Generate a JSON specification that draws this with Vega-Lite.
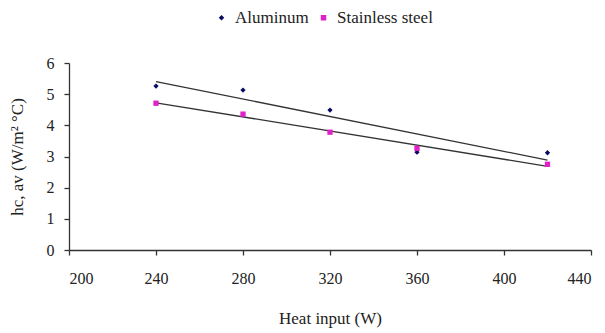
{
  "$schema": "https://vega.github.io/schema/vega-lite/v6.json",
  "width": 522,
  "height": 187,
  "autosize": {"type": "none"},
  "padding": {"left": 69, "top": 63, "right": 14, "bottom": 83},
  "background": "white",
  "config": {
    "view": {"stroke": null},
    "font": "Liberation Serif",
    "axis": {"grid": false, "domainColor": "#333", "tickColor": "#333", "labelColor": "#222", "titleColor": "#222", "labelFont": "Liberation Serif", "titleFont": "Liberation Serif", "labelFontSize": 16, "titleFontSize": 17, "titleFontWeight": "normal", "tickSize": 5, "domainWidth": 1.3, "tickWidth": 1.3, "labelOverlap": false}
  },
  "data": {
    "values": [
      {"heat": 240, "h": 5.26, "material": "Aluminum"},
      {"heat": 280, "h": 5.13, "material": "Aluminum"},
      {"heat": 320, "h": 4.49, "material": "Aluminum"},
      {"heat": 360, "h": 3.14, "material": "Aluminum"},
      {"heat": 420, "h": 3.12, "material": "Aluminum"},
      {"heat": 240, "h": 4.71, "material": "Stainless steel"},
      {"heat": 280, "h": 4.36, "material": "Stainless steel"},
      {"heat": 320, "h": 3.78, "material": "Stainless steel"},
      {"heat": 360, "h": 3.26, "material": "Stainless steel"},
      {"heat": 420, "h": 2.75, "material": "Stainless steel"}
    ]
  },
  "encoding": {
    "x": {"field": "heat", "type": "quantitative", "title": "Heat input (W)",
          "scale": {"domain": [200, 440], "nice": false},
          "axis": {"values": [200, 240, 280, 320, 360, 400, 440], "labelPadding": 15, "titlePadding": 24}},
    "y": {"field": "h", "type": "quantitative", "title": "hc, av (W/m² °C)",
          "scale": {"domain": [0, 6], "nice": false},
          "axis": {"values": [0, 1, 2, 3, 4, 5, 6], "tickCount": 7, "labelPadding": 10, "titlePadding": 20}}
  },
  "layer": [
    {
      "transform": [{"regression": "h", "on": "heat", "groupby": ["material"], "method": "linear"}],
      "mark": {"type": "line", "color": "#333", "strokeWidth": 1.3},
      "encoding": {
        "detail": {"field": "material"}
      }
    },
    {
      "mark": {"type": "point", "filled": true, "opacity": 1},
      "encoding": {
        "color": {"field": "material", "type": "nominal",
                  "scale": {"domain": ["Aluminum", "Stainless steel"], "range": ["#0a0a60", "#e020c8"]},
                  "legend": {"title": null, "orient": "none", "legendX": 144, "legendY": -54, "direction": "horizontal", "labelFont": "Liberation Serif", "labelFontSize": 17, "labelColor": "#222", "symbolSize": 30, "columnPadding": 6, "labelOffset": 5}},
        "shape": {"field": "material", "type": "nominal",
                  "scale": {"domain": ["Aluminum", "Stainless steel"], "range": ["diamond", "square"]}},
        "size": {"value": 28}
      }
    }
  ]
}
